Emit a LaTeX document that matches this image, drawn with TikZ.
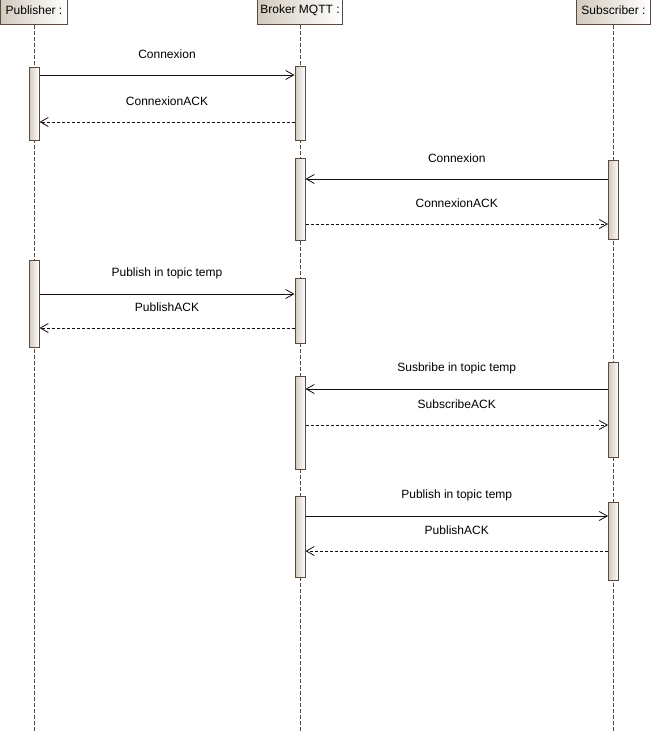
\documentclass[tikz,border=0pt]{standalone}
\usepackage{fontspec}
\setmainfont{Liberation Sans}
\usetikzlibrary{arrows.meta}
\definecolor{umlline}{HTML}{5A4A40}
\definecolor{umlfill}{HTML}{D2CABE}
\tikzset{
  header/.style={draw=umlline, line width=1pt, left color=umlfill, right color=white, inner sep=0pt, font=\fontsize{12pt}{14pt}\selectfont},
  lifeline/.style={draw=umlline, line width=0.9pt, dash pattern=on 4pt off 2pt},
  actbar/.style={draw=umlline, line width=1pt, left color=umlfill, right color=white, inner sep=0pt, minimum width=10pt},
  msgcall/.style={draw=black!80!umlline, line width=0.8pt, -{Straight Barb[length=8pt,width=9pt,line width=0.8pt]}},
  msgret/.style={draw=black!80!umlline, line width=0.8pt, dash pattern=on 3pt off 2pt, -{Straight Barb[length=8pt,width=9pt,line width=0.8pt]}},
  lbl/.style={font=\fontsize{12pt}{14pt}\selectfont, inner sep=0pt, yshift=21pt}
}
\begin{document}
\begin{tikzpicture}[x=1pt,y=-1pt]
\useasboundingbox (0,0) rectangle (651,731);
% headers
\node[header, minimum width=67pt, minimum height=28pt, anchor=south west] (pub) at (0,25) {Publisher :};
\node[header, minimum width=85pt, minimum height=28pt, anchor=south west] (brk) at (257,25) {Broker MQTT :};
\node[header, minimum width=74pt, minimum height=28pt, anchor=south west] (sub) at (576,25) {Subscriber :};
% lifelines
\coordinate (pubEnd) at (34,731);
\coordinate (brkEnd) at (300,731);
\coordinate (subEnd) at (613.5,731);
\draw[lifeline] (pub.south -| pubEnd) -- (pubEnd);
\draw[lifeline] (brk.south -| brkEnd) -- (brkEnd);
\draw[lifeline] (sub.south -| subEnd) -- (subEnd);
% activation bars
\node[actbar, minimum height=73pt] (pA) at (34,103.5) {};
\node[actbar, minimum height=87pt] (pB) at (34,303.5) {};
\node[actbar, minimum height=74pt] (bA) at (300,103) {};
\node[actbar, minimum height=82pt] (bB) at (300,199) {};
\node[actbar, minimum height=65pt] (bC) at (300,310.5) {};
\node[actbar, minimum height=93pt] (bD) at (300,422.5) {};
\node[actbar, minimum height=81pt] (bE) at (300,536.5) {};
\node[actbar, minimum height=79pt] (sA) at (613.5,199.5) {};
\node[actbar, minimum height=95pt] (sB) at (613.5,409.5) {};
\node[actbar, minimum height=78pt] (sC) at (613.5,541) {};
% messages
\draw[msgcall] (pA.east |- 0,75) -- node[lbl] {Connexion} (bA.west |- 0,75);
\draw[msgret] (bA.west |- 0,122) -- node[lbl] {ConnexionACK} (pA.east |- 0,122);
\draw[msgcall] (sA.west |- 0,179) -- node[lbl] {Connexion} (bB.east |- 0,179);
\draw[msgret] (bB.east |- 0,224) -- node[lbl] {ConnexionACK} (sA.west |- 0,224);
\draw[msgcall] (pB.east |- 0,294) -- node[lbl] {Publish in topic temp} (bC.west |- 0,294);
\draw[msgret] (bC.west |- 0,328) -- node[lbl] {PublishACK} (pB.east |- 0,328);
\draw[msgcall] (sB.west |- 0,389) -- node[lbl] {Susbribe in topic temp} (bD.east |- 0,389);
\draw[msgret] (bD.east |- 0,425) -- node[lbl] {SubscribeACK} (sB.west |- 0,425);
\draw[msgcall] (bE.east |- 0,516) -- node[lbl] {Publish in topic temp} (sC.west |- 0,516);
\draw[msgret] (sC.west |- 0,551) -- node[lbl] {PublishACK} (bE.east |- 0,551);
\end{tikzpicture}
\end{document}
